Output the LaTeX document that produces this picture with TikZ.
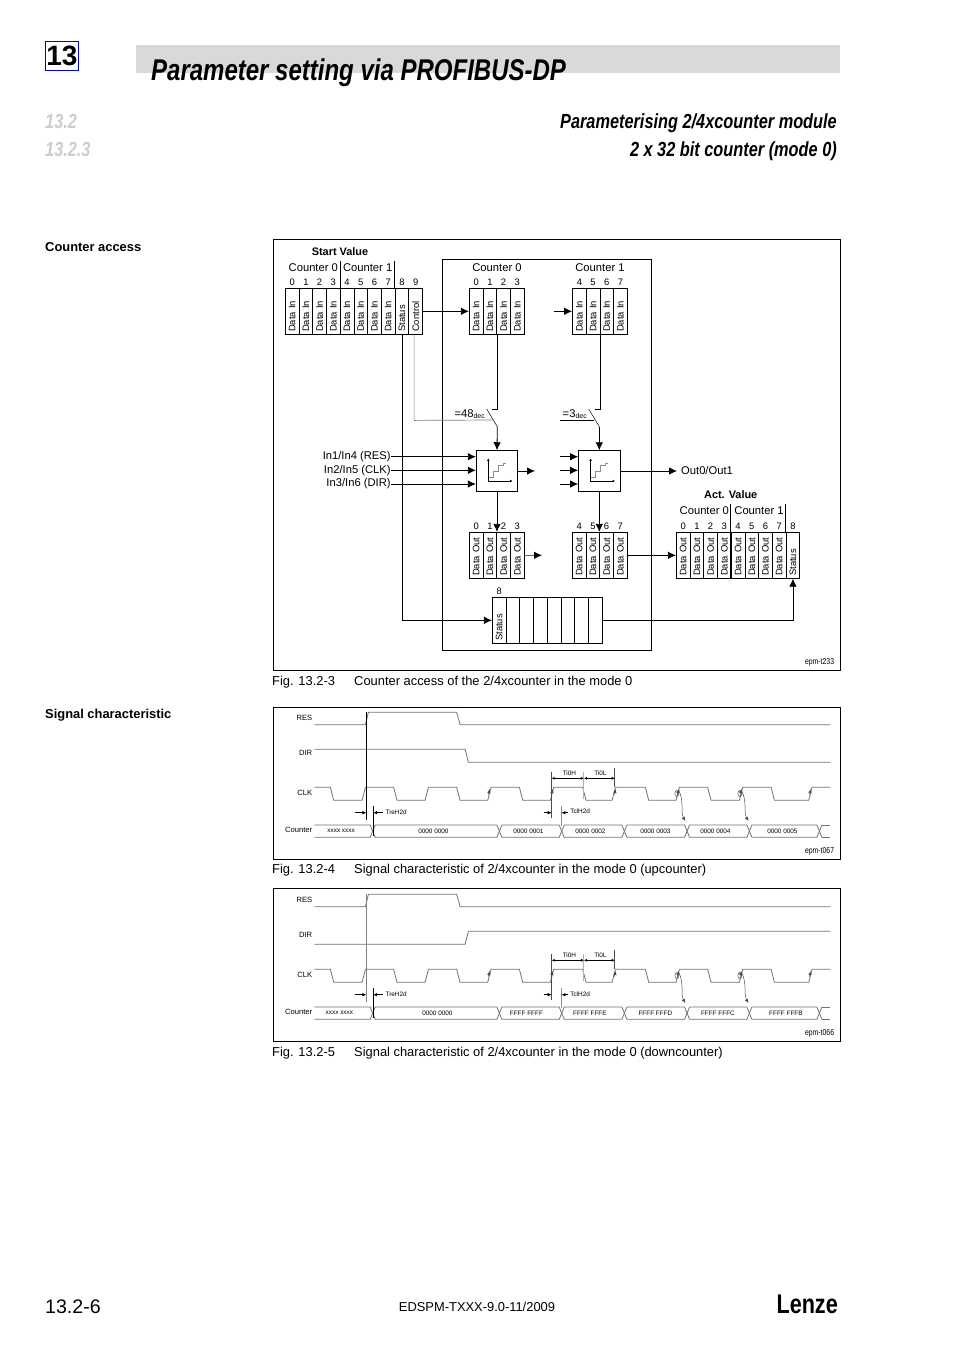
\documentclass[tikz,border=0pt]{standalone}
\usepackage{fontspec}
\setmainfont{Liberation Sans}
\newfontfamily\headfont[FakeStretch=0.8]{Liberation Sans}
\usetikzlibrary{arrows.meta,positioning,calc}
\definecolor{LenzeBlue}{RGB}{0,0,230}
\definecolor{HeadGray}{RGB}{217,217,217}
\definecolor{SecGray}{RGB}{205,205,205}
\tikzset{
  txt/.style={inner sep=0pt,font=\fontsize{11.2}{12}\selectfont},
  capt/.style={inner sep=0pt,anchor=base west,font=\fontsize{12.9}{14}\selectfont},
  side/.style={inner sep=0pt,anchor=base west,font=\fontsize{12.9}{14}\selectfont\bfseries},
  digit/.style={inner sep=0pt,font=\fontsize{9.4}{10}\selectfont},
  tag/.style={inner sep=0pt,anchor=east,font=\headfont\fontsize{8.6}{9}\selectfont},
  tiny/.style={inner sep=0pt,font=\fontsize{6.4}{8}\selectfont},
  siglab/.style={inner sep=0pt,anchor=east,font=\fontsize{7.6}{9}\selectfont},
  cellbox/.style={draw,line width=.8pt,rotate=90,inner xsep=2.5pt,inner ysep=0pt,
    text width=41pt,minimum height=13.72pt,align=left,font=\fontsize{9.4}{10}\selectfont},
  boxframe/.style={line width=.9pt},
  flowline/.style={line width=.8pt},
  flowarrow/.style={line width=.8pt,-{Latex[length=8pt,width=7.5pt]}},
  ctlline/.style={line width=.7pt,black!50},
  cntbox/.style={draw,line width=.9pt,minimum width=41.4pt,minimum height=40.6pt,inner sep=0pt},
  sigwave/.style={line width=.8pt,black!55},
  dimarrow/.style={line width=.6pt,-{Latex[length=4pt,width=3.5pt]}},
  edgetip/.style={line width=.5pt,black!70,-{Latex[length=4pt,width=3.5pt]}},
}
%% row of numbered cells: prefix, left x, top y, list digit/text
\newcommand{\cellrow}[4]{
  \foreach \i/\txt [count=\n from 0] in {#4}{
    \node[cellbox] (#1\i) at ({#2+13.72*\n+6.86},{#3+23}) {\txt};
    \node[digit] (#1d\i) at ({#2+13.72*\n+6.86},{#3-6}) {\i};
  }
}
%% counter box with its little staircase
\newcommand{\stairicon}[1]{
  \begin{scope}[shift={(#1.center)}]
    \draw[black!45,line width=.6pt] (-8.7,6.5)--(-4,6.5)--(-4,0.5)--(1,0.5)--(1,-5.5)--(6,-5.5)--(6,-8)--(9,-8);
    \draw[line width=.7pt,{Latex[length=2.5pt,width=2.5pt]}-{Latex[length=2.5pt,width=2.5pt]}]
      (-8.7,-12.7)--(-8.7,10)--(15.7,10);
  \end{scope}
}
%% timing chart: prefix, shift in y, DIR wave, colour of the RES line, value list
\newcommand{\timingchart}[5]{
  \begin{scope}[shift={(-0.6,#2)}]
    \node[siglab] (#1res) at (313,717.4) {RES};
    \node[siglab] (#1dir) at (313,753) {DIR};
    \node[siglab] (#1clk) at (313,793) {CLK};
    \node[siglab] (#1cnt) at (313,830) {Counter};
    %% RES, DIR
    \draw[sigwave] (315,724.7)--(366,724.7)--(369,712.3)--(457.3,712.3)--(460.7,724.7)--(831,724.7);
    \draw[sigwave] #3;
    %% CLK
    \draw[sigwave] (315,787.3)
      foreach \fa/\ri in {331/362.7,394.3/425.7,457.3/488.3,520/551,583.3/612.7,646/676.7,708.3/740,771.7/809.3}
      { --(\fa,787.3)--({\fa+3.3},800.3)--(\ri,800.3)--({\ri+3.3},787.3) } --(831,787.3);
    \foreach \ri in {488.9,551.9,614.9,677.9,740.6,810}
      \draw[edgetip] (\ri,794.5)--({\ri+1.6},789);
    %% Counter bus
    \foreach \ca/\cb in {312.5/373.3,373.3/500,500/562.3,562.3/625,625/687.7,687.7/750,750/820}{
      \draw[sigwave] ({\ca+2.5},825)--({\cb-2.5},825)--({\cb+2.5},837.3);
      \draw[sigwave] ({\ca+2.5},837.3)--({\cb-2.5},837.3)--({\cb+2.5},825);
    }
    \draw[sigwave] (822.5,825)--(831,825) (822.5,837.3)--(831,837.3);
    \foreach \val/\vx [count=\n] in {#5}
      \node[tiny] (#1val\n) at (\vx,831) {\val};
    %% delays
    \draw[#4,line width=.7pt] (367,712.3)--(367,820);
    \draw[line width=.7pt] (373.7,806)--(373.7,836);
    \coordinate (#1ta) at (356,812.7);
    \coordinate (#1tb) at (383.3,812.7);
    \coordinate (#1tc) at (544.3,812.7);
    \coordinate (#1td) at (569,812.7);
    \draw[dimarrow] (#1ta)--(367,812.7);
    \draw[dimarrow] (#1tb)--(373.7,812.7);
    \node[tiny,anchor=west] (#1tre) at (386,812) {TreH2d};
    \draw[line width=.6pt,black!70] (552.3,781)--(552.3,818.3);
    \draw[dimarrow] (#1tc)--(552.3,812.7);
    \draw[line width=.7pt,black!45] (562,806)--(562,826);
    \draw[dimarrow] (#1td)--(562,812.7);
    \node[tiny,anchor=west] (#1tcl) at (570.7,811.7) {TclH2d};
    %% clock times
    \draw[line width=.6pt,black!70] (552.3,772)--(552.3,781);
    \draw[line width=1pt,black!30] (584.5,771.7)--(584.5,799);
    \draw[line width=.6pt,black!70] (615.3,768)--(615.3,787);
    \draw[dimarrow,{Latex[length=3pt,width=3pt]}-{Latex[length=3pt,width=3pt]}] (552.3,778.3)--(584.5,778.3);
    \draw[dimarrow,{Latex[length=3pt,width=3pt]}-{Latex[length=3pt,width=3pt]}] (584.5,778.3)--(615.3,778.3);
    \node[tiny] (#1th) at (570,773) {Ti0H};
    \node[tiny] (#1tl) at (601,773) {Ti0L};
    %% counter follows the clock
    \draw[line width=.5pt,black!70] (677.4,793.5) ellipse (2pt and 3pt);
    \draw[line width=.5pt,black!70] (740.4,793.5) ellipse (2pt and 3pt);
    \draw[edgetip] (679.3,790) .. controls (685,802) and (681,812) .. (685.7,821);
    \draw[edgetip] (742,790) .. controls (748,802) and (744,812) .. (749,821);
  \end{scope}
}
\begin{document}
\begin{tikzpicture}[x=1pt,y=-1pt]
  \useasboundingbox (0,0) rectangle (954,1350);
  \fill[white] (0,0) rectangle (954,1350);
  %% Page head
  \fill[HeadGray] (136,45) rectangle (840,72.7);
  \node[draw=LenzeBlue,line width=1.2pt,inner sep=0pt,minimum width=32.4pt,minimum height=28.6pt,
        font=\fontsize{28}{28}\selectfont\bfseries] (chap) at (61.9,56) {13};
  \node[inner sep=0pt,anchor=base west,font=\headfont\fontsize{30}{33}\selectfont\bfseries\itshape]
       (title) at (151,80) {Parameter setting via PROFIBUS-DP};
  \node[inner sep=0pt,anchor=base west,text=SecGray,font=\headfont\fontsize{20.4}{22}\selectfont\bfseries\itshape]
       (secA) at (45,128) {13.2};
  \node[inner sep=0pt,anchor=base west,text=SecGray,font=\headfont\fontsize{20.4}{22}\selectfont\bfseries\itshape]
       (secB) at (45,156) {13.2.3};
  \node[inner sep=0pt,anchor=base east,font=\headfont\fontsize{20.4}{22}\selectfont\bfseries\itshape]
       (headA) at (837,128) {Parameterising 2/4xcounter module};
  \node[inner sep=0pt,anchor=base east,font=\headfont\fontsize{20.4}{22}\selectfont\bfseries\itshape]
       (headB) at (837,156) {2 x 32 bit counter (mode 0)};
  \node[side] (sideA) at (45,251) {Counter access};
  \node[side] (sideB) at (45,718) {Signal characteristic};

  %% Counter access frame
  \draw[boxframe] (273.5,239.5) rectangle (840.5,670.5);
  \draw[boxframe] (442.7,259.5) rectangle (651.7,650);
  \node[txt,font=\fontsize{10.9}{12}\selectfont\bfseries] (startval) at (340,251.5) {Start Value};
  \node[txt] (svA) at (313.3,268) {Counter 0};
  \node[txt] (svB) at (367.7,268) {Counter 1};
  \draw[flowline] (340.7,261)--(340.7,288.3) (394.2,261)--(394.2,288.3);
  \cellrow{sv}{285.3}{288.3}{0/Data In,1/Data In,2/Data In,3/Data In,4/Data In,5/Data In,6/Data In,7/Data In,8/Status,9/Control}
  %% Inside: data in
  \node[txt] (inA) at (497,268) {Counter 0};
  \node[txt] (inB) at (600,268) {Counter 1};
  \cellrow{ca}{469.3}{288.3}{0/Data In,1/Data In,2/Data In,3/Data In}
  \cellrow{cb}{572.5}{288.3}{4/Data In,5/Data In,6/Data In,7/Data In}
  \draw[flowarrow] (sv9.south)--(ca0.north);
  \coordinate (cbin) at (554,311.3);
  \draw[flowarrow] (cbin)--(cb4.north);
  %% Counter boxes
  \node[cntbox] (cntA) at (497,471) {};
  \node[cntbox] (cntB) at (599.3,471) {};
  \stairicon{cntA}
  \stairicon{cntB}
  %% Switches
  \node[txt,anchor=east] (eqA) at (485,414) {=48{\fontsize{7}{8}\selectfont\raisebox{-1.2pt}{dec}}};
  \node[txt,anchor=east] (eqB) at (587,414) {=3{\fontsize{7}{8}\selectfont\raisebox{-1.2pt}{dec}}};
  \coordinate (swAa) at (486.7,409);
  \coordinate (swAb) at (497.3,426.7);
  \coordinate (swBa) at (588.7,409);
  \coordinate (swBb) at (599.3,426.7);
  \draw[line width=.5pt] (swAa)--(swAb) (swBa)--(swBb);
  \draw[flowline] (ca1.south west)--(ca1.south west |- swAa)--++(-5.6,0);
  \draw[flowline] (cb5.south west)--(cb5.south west |- swBa)--++(-5.6,0);
  \draw[flowarrow] (swAb)--(cntA.north);
  \draw[flowarrow] (swBb)--(cntB.north);
  \draw[ctlline] ([xshift=-1.5pt]sv9.west)--++(0,85.7)--(492.7,420);
  \draw[line width=.7pt] (560,420)--(594,420);
  %% Inputs
  \node[txt,anchor=east] (inres) at (390.8,456.7) {In1/In4 (RES)};
  \node[txt,anchor=east] (inclk) at (390.8,470.3) {In2/In5 (CLK)};
  \node[txt,anchor=east] (indir) at (390.8,484) {In3/In6 (DIR)};
  \foreach \nm in {inres,inclk,indir}
    \draw[flowarrow] (\nm.east)--(cntA.west |- \nm.east);
  \foreach \yy [count=\n] in {456.7,470.3,484}{
    \coordinate (cbi\n) at (560,\yy);
    \draw[flowarrow] (cbi\n)--(cntB.west |- cbi\n);
  }
  \coordinate (cao) at (535,471);
  \draw[flowarrow] (cntA.east)--(cao);
  \node[txt,anchor=west] (outlab) at (681,470) {Out0/Out1};
  \coordinate (cbo) at (677,471);
  \draw[flowarrow] (cntB.east)--(cbo);
  %% Data out
  \cellrow{oa}{469.3}{532.3}{0/Data Out,1/Data Out,2/Data Out,3/Data Out}
  \cellrow{ob}{572.3}{532.3}{4/Data Out,5/Data Out,6/Data Out,7/Data Out}
  \draw[flowarrow] (cntA.south)--(oa1.east -| cntA.south);
  \draw[flowarrow] (cntB.south)--(ob5.east -| cntB.south);
  \coordinate (oaout) at (542,555.3);
  \draw[line width=.7pt,black!60] (oa3.south)--(535,555.3);
  \draw[flowarrow] (534.5,555.3)--(oaout);
  \node[txt,font=\fontsize{10.9}{12}\selectfont\bfseries] (actval) at (730.7,495) {Act. Value};
  \node[txt] (acA) at (704.3,511) {Counter 0};
  \node[txt] (acB) at (759,511) {Counter 1};
  \draw[flowline] (730.7,504)--(730.7,532.3) (785.3,504)--(785.3,532.3);
  \cellrow{av}{676.3}{532.3}{0/Data Out,1/Data Out,2/Data Out,3/Data Out,4/Data Out,5/Data Out,6/Data Out,7/Data Out,8/Status}
  \draw[line width=1.2pt] (731,532.3)--(731,578.3);
  \draw[flowarrow] (ob7.south)--(av0.north);
  %% Status row
  \node[cellbox] (st0) at (499.2,620.3) {Status};
  \node[digit] (std) at (499.2,591.7) {8};
  \foreach \n in {1,...,7}
    \node[cellbox] (st\n) at ({499.2+13.72*\n},620.3) {};
  \draw[line width=1.2pt] (547.2,597.3)--(547.2,643.3);
  \draw[flowarrow] (sv8.west)|-(st0.north);
  \draw[flowarrow] (st7.south)-|(av8.west);
  \node[tag] (tagA) at (834.3,662.7) {epm-t233};
  \node[capt] (figA) at (272,685) {Fig. 13.2-3};
  \node[capt] (capA) at (354,685) {Counter access of the 2/4xcounter in the mode 0};

  %% Signal charts
  \draw[boxframe] (273.5,707.5) rectangle (840.5,859.5);
  \timingchart{up}{0}{(315,749.3)--(465.7,749.3)--(469,762.3)--(831,762.3)}{black}
    {xxxx xxxx/341.7,0000 0000/434,0000 0001/529,0000 0002/591,0000 0003/656,0000 0004/716,0000 0005/783}
  \node[tag] (tagB) at (834.3,851.5) {epm-t067};
  \node[capt] (figB) at (272,873) {Fig. 13.2-4};
  \node[capt] (capB) at (354,873) {Signal characteristic of 2/4xcounter in the mode 0 (upcounter)};

  \draw[boxframe] (273.5,888.5) rectangle (840.5,1041.5);
  \timingchart{dn}{182}{(315,762.3)--(465.7,762.3)--(469,749.3)--(831,749.3)}{black!50}
    {xxxx xxxx/340,0000 0000/438,FFFF FFFF/527,FFFF FFFE/590.5,FFFF FFFD/656,FFFF FFFC/718.5,FFFF FFFB/786.5}
  \node[tag] (tagC) at (834.3,1033.5) {epm-t066};
  \node[capt] (figC) at (272,1056) {Fig. 13.2-5};
  \node[capt] (capC) at (354,1056) {Signal characteristic of 2/4xcounter in the mode 0 (downcounter)};

  %% Page foot
  \node[inner sep=0pt,anchor=west,font=\fontsize{19.6}{21}\selectfont] (page) at (45,1307) {13.2-6};
  \node[inner sep=0pt,font=\fontsize{12.9}{14}\selectfont] (docno) at (477,1306.5) {EDSPM-TXXX-9.0-11/2009};
  \node[inner sep=0pt,anchor=east,font=\headfont\fontsize{27}{28}\selectfont\bfseries] (logo) at (838,1304) {Lenze};
\end{tikzpicture}
\end{document}
